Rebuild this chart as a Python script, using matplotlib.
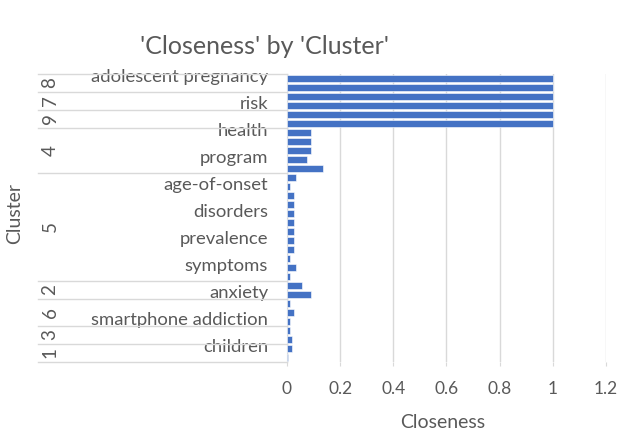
import matplotlib
matplotlib.use("Agg")
import matplotlib.pyplot as plt
import matplotlib.transforms as mtransforms

# categories listed top to bottom; only every third name is shown on the axis
terms = ["adolescent pregnancy", "", "", "risk", "", "", "health", "", "", "program",
         "", "", "age-of-onset", "", "", "disorders", "", "", "prevalence", "", "",
         "symptoms", "", "", "anxiety", "", "", "smartphone addiction", "", "", "children", ""]
clusters = ["8", "8", "7", "7", "9", "9", "4", "4", "4", "4", "4",
            "5", "5", "5", "5", "5", "5", "5", "5", "5", "5", "5", "5",
            "2", "2", "6", "6", "6", "3", "3", "1", "1"]
closeness = [1.0, 1.0, 1.0, 1.0, 1.0, 1.0, 0.09, 0.09, 0.09, 0.077, 0.135,
             0.032, 0.013, 0.025, 0.025, 0.025, 0.025, 0.025, 0.025, 0.025, 0.013, 0.032, 0.013,
             0.058, 0.09, 0.013, 0.025, 0.013, 0.013, 0.02, 0.02, 0.005]

plt.rcParams['font.family'] = ['Lato', 'DejaVu Sans']
text_col = '#595959'
grid_col = '#d9d9d9'

fig = plt.figure(figsize=(6.21, 4.32), dpi=100)
ax = fig.add_axes([287 / 621, 1 - 362 / 432, (606 - 287) / 621, (362 - 74) / 432])

pos = list(range(len(closeness)))
ax.barh(pos, closeness, height=0.85, color='#4472c4', edgecolor='white', linewidth=0.4, zorder=3)
ax.set_ylim(len(closeness) - 0.5, -0.5)
ax.set_xlim(0, 1.2)
ax.set_xticks([0, 0.2, 0.4, 0.6, 0.8, 1.0, 1.2])
ax.set_xticklabels(['0', '0.2', '0.4', '0.6', '0.8', '1', '1.2'])
ax.grid(axis='x', color=grid_col, linewidth=1, zorder=0)
ax.tick_params(axis='x', length=3, color=grid_col, labelsize=12.5, labelcolor=text_col, pad=11)

ax.set_yticks(pos)
ax.set_yticklabels(terms)
ax.tick_params(axis='y', length=0, labelsize=13.3, labelcolor=text_col, pad=20)
# shift names right and a little up, as on the original axis
lift = mtransforms.ScaledTranslation(9 / 100, 3 / 100, fig.dpi_scale_trans)
for lab in ax.get_yticklabels():
    lab.set_transform(lab.get_transform() + lift)

for side in ['top', 'right', 'bottom']:
    ax.spines[side].set_visible(False)
ax.spines['left'].set_color(grid_col)

# outer level of the category axis: cluster names and separator lines
trans = mtransforms.blended_transform_factory(ax.transAxes, ax.transData)
x_line = (38 - 287) / (606 - 287)
x_lab = (50 - 287) / (606 - 287)
start = 0
bounds = [-0.5]
for i in range(1, len(clusters) + 1):
    if i == len(clusters) or clusters[i] != clusters[start]:
        mid = (start + i - 1) / 2
        ax.text(x_lab, mid, clusters[start], transform=trans, rotation=90,
                ha='center', va='center', fontsize=13.5, color=text_col)
        bounds.append(i - 0.5)
        start = i
for b in bounds:
    ax.plot([x_line, 0], [b, b], transform=trans, color=grid_col, linewidth=1, clip_on=False)

fig.text(15 / 621, 1 - 213 / 432, 'Cluster', rotation=90, ha='center', va='center',
         fontsize=14, color=text_col)
fig.text(443 / 621, 1 - 422 / 432, 'Closeness', ha='center', va='center',
         fontsize=14, color=text_col)
fig.text(265 / 621, 1 - 46 / 432, "'Closeness' by 'Cluster'", ha='center', va='center',
         fontsize=18, color=text_col)

fig.savefig('out.png', dpi=100)
